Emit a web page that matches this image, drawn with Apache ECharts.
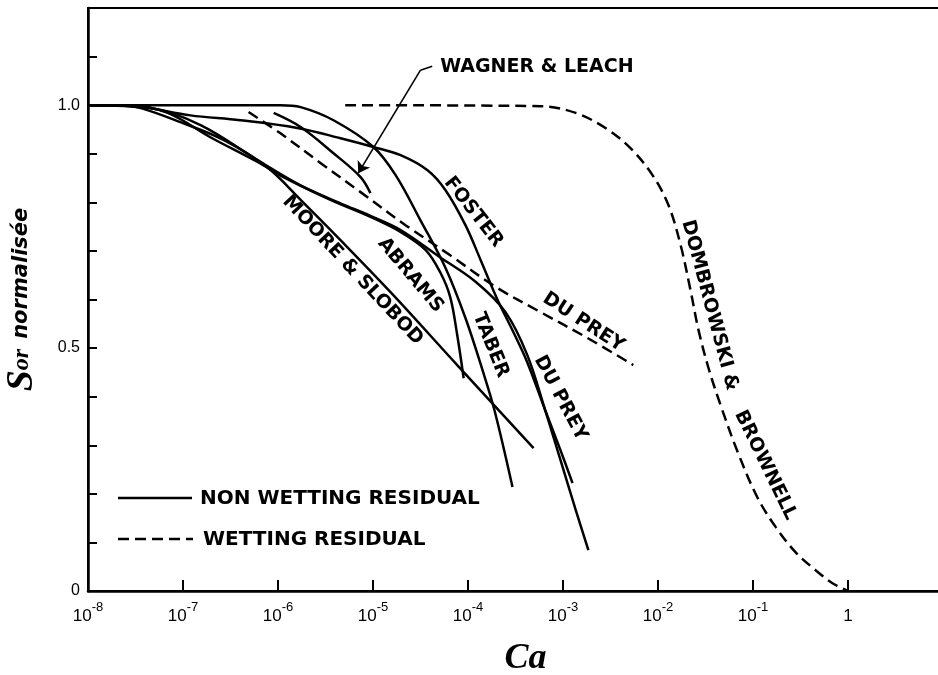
<!DOCTYPE html>
<html>
<head>
<meta charset="utf-8">
<title>Sor normalisée vs Ca</title>
<script src="https://cdn.jsdelivr.net/npm/echarts@6/dist/echarts.min.js"></script>
<style>
  html, body { margin: 0; padding: 0; background: #fff; }
  #chart { width: 938px; height: 675px; }
</style>
</head>
<body>
<div id="chart"></div>
<script>
// courbes de désaturation capillaire (Ca en abscisse log, Sor normalisée en ordonnée)
var xTicks = [1e-8, 1e-7, 1e-6, 1e-5, 1e-4, 1e-3, 1e-2, 1e-1, 1];
var yTickLabels = ['0', '0.5', '1.0'];

// non wetting residual (traits pleins)
var mooreCa = [1e-8, 2.2e-8, 3.6e-8, 9.4e-8, 2.7e-7, 7.7e-7, 1.73e-6, 4.55e-6, 1.53e-5, 7.7e-5, 4.9e-4];
var mooreS  = [1.0, 1.0, 0.994, 0.965, 0.928, 0.872, 0.805, 0.722, 0.615, 0.465, 0.294];

var abramsCa = [1e-8, 2.8e-8, 6.9e-8, 1.94e-7, 6.1e-7, 1.14e-6, 3.57e-6, 9.4e-6, 1.95e-5, 3.57e-5, 5.1e-5, 6.5e-5, 7.7e-5, 9.0e-5];
var abramsS  = [1.0, 1.0, 0.984, 0.934, 0.883, 0.852, 0.805, 0.770, 0.739, 0.702, 0.656, 0.605, 0.527, 0.438];

var duPreyCa = [1e-8, 4.55e-8, 1.53e-7, 6.1e-7, 1.73e-6, 4.55e-6, 9.4e-6, 1.95e-5, 4.9e-5, 1.21e-4, 2.48e-4, 4.2e-4, 6.5e-4, 9.4e-4, 1.36e-3, 1.85e-3];
var duPreyS  = [1.0, 0.994, 0.959, 0.887, 0.835, 0.798, 0.772, 0.743, 0.689, 0.636, 0.574, 0.486, 0.372, 0.270, 0.167, 0.084];

var fosterCa = [1e-8, 3.0e-8, 1.2e-7, 4.0e-7, 1.6e-6, 4.55e-6, 1.01e-5, 1.95e-5, 3.75e-5, 5.8e-5, 9.4e-5, 1.36e-4, 2.05e-4, 3.0e-4, 4.2e-4, 6.5e-4, 9.4e-4, 1.26e-3];
var fosterS  = [1.0, 0.998, 0.979, 0.969, 0.953, 0.932, 0.914, 0.897, 0.866, 0.825, 0.753, 0.681, 0.599, 0.533, 0.471, 0.372, 0.290, 0.222];

var taberCa = [1e-8, 1.06e-6, 1.73e-6, 3.84e-6, 1.01e-5, 1.73e-5, 3.16e-5, 5.8e-5, 9.4e-5, 1.42e-4, 1.9e-4, 2.94e-4];
var taberS  = [1.0, 1.0, 0.996, 0.969, 0.914, 0.856, 0.763, 0.665, 0.562, 0.455, 0.372, 0.214];

var wagnerCa = [9.0e-7, 1.73e-6, 3.84e-6, 7.4e-6, 9.4e-6];
var wagnerS  = [0.984, 0.955, 0.901, 0.852, 0.819];

// wetting residual (tirets)
var duPreyWCa = [4.9e-7, 1.06e-6, 2.8e-6, 7.4e-6, 2.2e-5, 6.5e-5, 1.95e-4, 5.8e-4, 1.73e-3, 5.5e-3];
var duPreyWS  = [0.986, 0.942, 0.881, 0.821, 0.753, 0.691, 0.626, 0.574, 0.523, 0.465];

var dombCa = [5.1e-6, 5.8e-4, 1.36e-3, 2.8e-3, 5.1e-3, 8.75e-3, 1.29e-2, 1.73e-2, 2.2e-2, 2.67e-2, 3.4e-2, 4.55e-2, 6.9e-2, 0.111, 0.173, 0.28, 0.455, 0.687, 1];
var dombS  = [1.0, 0.998, 0.984, 0.953, 0.912, 0.856, 0.794, 0.712, 0.619, 0.537, 0.459, 0.383, 0.286, 0.193, 0.132, 0.080, 0.043, 0.016, 0];

// flèche "WAGNER & LEACH"
var arrowCa = [4.2e-5, 3.16e-5, 7.0e-6];
var arrowS  = [1.080, 1.072, 0.860];

// étiquettes le long des courbes
var curveLabels = [
  { text: 'WAGNER & LEACH', ca: 5.1e-5, s: 1.078, angle: 0, align: 'left' },
  { text: 'MOORE & SLOBOD', ca: 6.1e-6, s: 0.660, angle: -47 },
  { text: 'ABRAMS', ca: 2.48e-5, s: 0.650, angle: -50 },
  { text: 'TABER', ca: 1.73e-4, s: 0.506, angle: -68 },
  { text: 'FOSTER', ca: 1.14e-4, s: 0.780, angle: -52 },
  { text: 'DU PREY', ca: 1.64e-3, s: 0.553, angle: -33 },
  { text: 'DU PREY', ca: 9.4e-4, s: 0.397, angle: -62 },
  { text: 'DOMBROWSKI &', ca: 3.5e-2, s: 0.588, angle: -75 },
  { text: 'BROWNELL', ca: 0.135, s: 0.259, angle: -64 }
];

var labelFont = 'bold 19px "DejaVu Sans"';

function pairs(xs, ys) {
  var out = [];
  for (var i = 0; i < xs.length; i++) out.push([xs[i], ys[i]]);
  return out;
}

function curve(name, xs, ys, dashed) {
  return {
    name: name,
    type: 'line',
    data: pairs(xs, ys),
    symbol: 'none',
    smooth: 0.35,
    lineStyle: { color: '#000', width: 2.5, type: dashed ? [11, 6] : 'solid' },
    z: 3
  };
}

var wagner = curve('Wagner & Leach', wagnerCa, wagnerS, false);
wagner.markLine = {
  silent: true,
  animation: false,
  symbol: ['none', 'arrow'],
  symbolSize: 11,
  label: { show: false },
  lineStyle: { color: '#000', width: 1.6, type: 'solid' },
  data: [
    [{ coord: [arrowCa[0], arrowS[0]], symbol: 'none' }, { coord: [arrowCa[1], arrowS[1]], symbol: 'none' }],
    [{ coord: [arrowCa[1], arrowS[1]] }, { coord: [arrowCa[2], arrowS[2]] }]
  ]
};

var dom = document.getElementById('chart');
var myChart = echarts.init(dom);

myChart.setOption({
  animation: false,
  backgroundColor: '#fff',
  grid: {
    left: 88, right: -5, top: 8, bottom: 84,
    containLabel: false,
    outerBoundsMode: 'none',
    show: true, borderColor: '#000', borderWidth: 2
  },
  xAxis: {
    type: 'log',
    logBase: 10,
    min: 1e-8,
    max: 10,
    splitNumber: 9,
    axisLine: { show: true, lineStyle: { color: '#000', width: 2.5 } },
    axisTick: { show: true, inside: true, length: 11, lineStyle: { color: '#000', width: 2 } },
    splitLine: { show: false },
    axisLabel: {
      margin: 10,
      color: '#000',
      showMaxLabel: false,
      formatter: function (v) {
        var e = Math.round(Math.log10(v));
        if (e === 0) return '{b|1}';
        if (e > 0) return '';
        return '{b|10}{s|' + e + '}';
      },
      rich: {
        b: { fontFamily: 'Liberation Sans', fontSize: 17, color: '#000', verticalAlign: 'bottom', lineHeight: 24 },
        s: { fontFamily: 'Liberation Sans', fontSize: 13, color: '#000', verticalAlign: 'top', lineHeight: 14 }
      }
    },
    name: 'Ca',
    nameLocation: 'middle',
    nameGap: 50,
    nameTextStyle: {
      fontFamily: 'Liberation Serif', fontStyle: 'italic', fontWeight: 'bold',
      fontSize: 36, color: '#000', padding: [0, 0, 0, 20]
    }
  },
  yAxis: {
    type: 'value',
    min: 0,
    max: 1.2,
    interval: 0.1,
    axisLine: { show: true, lineStyle: { color: '#000', width: 2.5 } },
    axisTick: { show: true, inside: true, length: 9, lineStyle: { color: '#000', width: 2 } },
    splitLine: { show: false },
    axisLabel: {
      margin: 8,
      color: '#000',
      fontFamily: 'Liberation Sans',
      fontSize: 16,
      formatter: function (v) {
        if (Math.abs(v) < 1e-6) return yTickLabels[0];
        if (Math.abs(v - 0.5) < 1e-6) return yTickLabels[1];
        if (Math.abs(v - 1) < 1e-6) return yTickLabels[2];
        return '';
      }
    },
    name: '{s|S}{o|or}   {n|normalisée}',
    nameLocation: 'middle',
    nameRotate: 90,
    nameGap: 47,
    nameTextStyle: {
      rich: {
        s: { fontFamily: 'Liberation Serif', fontStyle: 'italic', fontWeight: 'bold', fontSize: 38, color: '#000' },
        o: { fontFamily: 'Liberation Serif', fontStyle: 'italic', fontWeight: 'bold', fontSize: 24, color: '#000' },
        n: { fontFamily: 'DejaVu Sans', fontStyle: 'italic', fontWeight: 'bold', fontSize: 21, color: '#000' }
      }
    }
  },
  series: [
    curve('Moore & Slobod', mooreCa, mooreS, false),
    curve('Abrams', abramsCa, abramsS, false),
    curve('Du Prey', duPreyCa, duPreyS, false),
    curve('Foster', fosterCa, fosterS, false),
    curve('Taber', taberCa, taberS, false),
    wagner,
    curve('Du Prey (wetting)', duPreyWCa, duPreyWS, true),
    curve('Dombrowski & Brownell', dombCa, dombS, true)
  ]
});

// étiquettes et légende dessinées après coup, placées via les axes
var graphics = curveLabels.map(function (l) {
  var p = myChart.convertToPixel({ gridIndex: 0 }, [l.ca, l.s]);
  return {
    type: 'text',
    x: p[0], y: p[1],
    rotation: l.angle * Math.PI / 180,
    style: { text: l.text, font: labelFont, fill: '#000', align: l.align || 'center', verticalAlign: 'middle' },
    z: 10
  };
});

graphics.push(
  { type: 'line', shape: { x1: 118, y1: 498, x2: 192, y2: 498 }, style: { stroke: '#000', lineWidth: 2.5 }, z: 10 },
  { type: 'text', x: 200, y: 499, style: { text: 'NON WETTING RESIDUAL', font: 'bold 20px "DejaVu Sans"', fill: '#000', verticalAlign: 'middle' }, z: 10 },
  { type: 'line', shape: { x1: 118, y1: 539, x2: 193, y2: 539 }, style: { stroke: '#000', lineWidth: 2.5, lineDash: [11, 6] }, z: 10 },
  { type: 'text', x: 203, y: 540, style: { text: 'WETTING RESIDUAL', font: 'bold 20px "DejaVu Sans"', fill: '#000', verticalAlign: 'middle' }, z: 10 }
);

myChart.setOption({ graphic: graphics });

window.addEventListener('resize', function () {
  myChart.resize();
});
</script>
</body>
</html>
